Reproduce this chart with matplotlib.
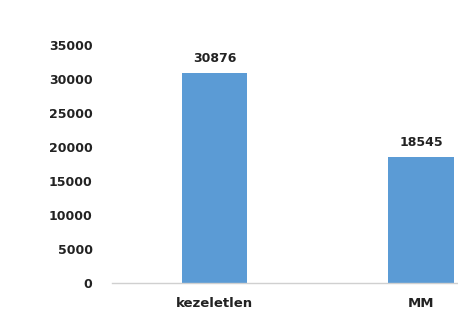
import matplotlib
matplotlib.use("Agg")
import matplotlib.pyplot as plt

categories = ["kezeletlen", "MM"]
values = [30876, 18545]
yticks = [0, 5000, 10000, 15000, 20000, 25000, 30000, 35000]

fig = plt.figure(figsize=(4.58, 3.11), dpi=100)
ax = fig.add_axes([112 / 458, 28 / 311, 346 / 458, 238 / 311])

pos = list(range(len(categories)))
bars = ax.bar(pos, values, width=0.315, color="#5B9BD5")
for b, v in zip(bars, values):
    ax.annotate(f"{v}", (b.get_x() + b.get_width() / 2, v),
                xytext=(0, 6), textcoords="offset points",
                ha="center", va="bottom", fontsize=9, fontweight="bold",
                color="#222222", annotation_clip=False)

ax.set_xlim(-0.496, 1.179)
ax.set_ylim(0, 35000)
ax.set_yticks(yticks)
ax.set_yticklabels([str(t) for t in yticks], fontsize=9, fontweight="bold",
                   color="#222222")
ax.set_xticks(pos)
ax.set_xticklabels(categories, fontsize=9.5, fontweight="bold", color="#222222")
ax.tick_params(axis="y", length=0, pad=14)
ax.tick_params(axis="x", length=0, pad=10)
for s in ["top", "right", "left"]:
    ax.spines[s].set_visible(False)
ax.spines["bottom"].set_color("#d0d0d0")
ax.spines["bottom"].set_linewidth(1)

fig.savefig("out.png", dpi=100)
